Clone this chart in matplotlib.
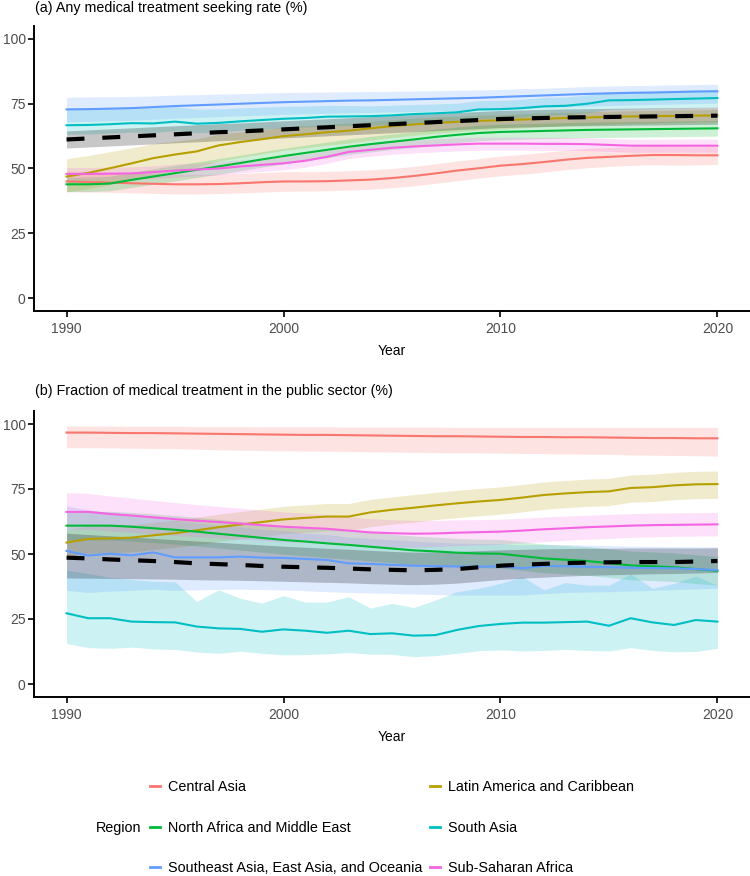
import matplotlib.pyplot as plt
from matplotlib.lines import Line2D

plt.rcParams['font.family'] = ['Liberation Sans', 'DejaVu Sans']

years = list(range(1990, 2021))
regions = ['Central Asia', 'Latin America and Caribbean', 'North Africa and Middle East',
           'South Asia', 'Southeast Asia, East Asia, and Oceania', 'Sub-Saharan Africa']
colors = ['#F8766D', '#B79F00', '#00BA38', '#00BFC4', '#619CFF', '#F564E3']

# (a) any medical treatment seeking rate (%)
a_central = [45.0, 44.8, 44.6, 44.3, 44.1, 43.9, 43.9, 44.0, 44.3, 44.7, 45.0, 45.0, 45.1, 45.4, 45.7, 46.3,
             47.1, 48.1, 49.2, 50.1, 51.1, 51.7, 52.5, 53.4, 54.1, 54.5, 54.9, 55.2, 55.2, 55.1, 55.1]
a_central_lo = [41.0, 40.9, 40.8, 40.6, 40.4, 40.2, 40.2, 40.3, 40.6, 40.9, 41.2, 41.3, 41.4, 41.7, 42.0, 42.6,
                43.3, 44.3, 45.3, 46.3, 47.2, 47.8, 48.6, 49.5, 50.3, 50.8, 51.2, 51.5, 51.3, 51.4, 51.6]
a_central_hi = [49.0, 48.8, 48.5, 48.2, 48.0, 47.8, 47.7, 47.8, 48.1, 48.4, 48.8, 48.8, 48.9, 49.1, 49.5, 50.0,
                50.8, 51.8, 52.9, 53.8, 54.8, 55.4, 56.2, 57.1, 57.8, 58.1, 58.4, 58.6, 58.5, 58.4, 58.4]
a_latin = [46.9, 48.3, 50.1, 52.0, 54.0, 55.4, 56.6, 58.9, 60.2, 61.3, 62.5, 63.2, 64.0, 64.6, 65.5, 66.4,
           67.0, 67.6, 68.0, 68.4, 68.6, 68.9, 69.2, 69.5, 69.7, 69.9, 70.1, 70.2, 70.3, 70.4, 70.5]
a_latin_lo = [41.0, 42.2, 43.8, 45.6, 47.5, 49.0, 50.4, 52.8, 54.3, 55.6, 57.0, 58.0, 59.0, 59.8, 60.9, 62.0,
              62.8, 63.6, 64.2, 64.8, 65.2, 65.7, 66.1, 66.5, 66.8, 67.1, 67.4, 67.6, 67.8, 68.0, 68.1]
a_latin_hi = [53.8, 55.0, 56.5, 58.0, 59.6, 60.6, 61.5, 63.2, 64.1, 65.0, 66.0, 66.5, 67.1, 67.5, 68.2, 68.9,
              69.4, 69.9, 70.2, 70.6, 70.8, 71.1, 71.4, 71.7, 71.9, 72.1, 72.3, 72.4, 72.5, 72.6, 72.8]
a_nafrica = [43.9, 43.9, 44.2, 45.6, 46.9, 48.2, 49.5, 50.8, 52.1, 53.5, 54.8, 56.0, 57.2, 58.4, 59.4, 60.3,
             61.2, 62.2, 63.0, 63.7, 64.1, 64.3, 64.5, 64.7, 64.9, 65.0, 65.1, 65.2, 65.3, 65.4, 65.5]
a_nafrica_lo = [41.1, 41.1, 41.4, 42.7, 43.9, 45.2, 46.5, 47.8, 49.1, 50.5, 51.8, 53.0, 54.2, 55.4, 56.4, 57.3,
                58.2, 59.2, 60.0, 60.7, 61.1, 61.3, 61.5, 61.7, 61.9, 62.0, 62.1, 62.2, 62.3, 62.4, 62.5]
a_nafrica_hi = [46.7, 46.7, 47.0, 48.5, 49.9, 51.2, 52.5, 53.8, 55.1, 56.5, 57.8, 59.0, 60.2, 61.4, 62.4, 63.3,
                64.2, 65.2, 66.0, 66.7, 67.1, 67.3, 67.5, 67.7, 67.9, 68.0, 68.1, 68.2, 68.3, 68.4, 68.5]
a_sasia = [66.7, 66.8, 67.1, 67.5, 67.4, 68.1, 67.3, 67.6, 68.2, 68.7, 69.2, 69.5, 70.0, 70.1, 70.2, 70.5,
           71.0, 71.3, 71.7, 72.8, 72.9, 73.3, 74.0, 74.2, 75.0, 76.3, 76.4, 76.6, 76.8, 77.0, 77.2]
a_sasia_lo = [63.2, 63.3, 63.6, 64.0, 63.9, 64.6, 63.8, 64.1, 64.7, 65.2, 65.7, 66.0, 66.5, 66.6, 66.7, 67.0,
              67.5, 67.8, 68.2, 69.3, 69.4, 69.8, 70.5, 70.7, 71.5, 72.8, 72.9, 73.1, 73.3, 73.5, 73.7]
a_sasia_hi = [73.5, 73.4, 73.5, 73.7, 73.4, 73.9, 72.9, 73.0, 73.4, 73.7, 74.0, 74.1, 74.4, 74.3, 74.2, 74.4,
              74.7, 74.9, 75.2, 76.2, 76.3, 76.7, 77.4, 77.6, 78.4, 79.7, 79.8, 80.0, 80.2, 80.4, 80.6]
a_seasia = [72.8, 72.9, 73.1, 73.3, 73.7, 74.1, 74.4, 74.7, 75.0, 75.3, 75.6, 75.8, 76.0, 76.2, 76.3, 76.5,
            76.7, 76.9, 77.1, 77.3, 77.6, 77.9, 78.2, 78.5, 78.8, 79.0, 79.2, 79.3, 79.5, 79.7, 79.8]
a_seasia_lo = [68.0, 68.2, 68.4, 68.6, 69.0, 69.4, 69.7, 70.0, 70.3, 70.6, 70.9, 71.1, 71.3, 71.5, 71.6, 71.8,
               72.0, 72.2, 72.4, 72.6, 72.9, 73.2, 73.5, 73.8, 74.1, 74.3, 74.5, 74.7, 74.9, 75.1, 75.2]
a_seasia_hi = [77.5, 77.6, 77.7, 77.8, 78.0, 78.3, 78.5, 78.7, 78.9, 79.1, 79.3, 79.4, 79.5, 79.6, 79.7, 79.8,
               79.9, 80.0, 80.2, 80.3, 80.5, 80.8, 81.0, 81.3, 81.6, 81.8, 82.0, 82.1, 82.3, 82.4, 82.5]
a_ssafrica = [47.9, 47.9, 48.0, 48.1, 48.6, 49.2, 49.6, 50.0, 50.8, 51.4, 52.0, 53.0, 54.5, 56.4, 57.2, 58.0,
              58.5, 58.9, 59.3, 59.6, 59.6, 59.6, 59.5, 59.5, 59.4, 59.1, 58.8, 58.8, 58.8, 58.8, 58.8]
a_ssafrica_lo = [45.4, 45.4, 45.5, 45.6, 46.1, 46.7, 47.1, 47.5, 48.3, 48.9, 49.5, 50.5, 52.0, 53.9, 54.7, 55.5,
                 56.0, 56.4, 56.8, 57.1, 57.1, 57.1, 57.0, 57.0, 56.9, 56.6, 56.3, 56.3, 56.3, 56.3, 56.3]
a_ssafrica_hi = [50.4, 50.4, 50.5, 50.6, 51.1, 51.7, 52.1, 52.5, 53.3, 53.9, 54.5, 55.5, 57.0, 58.9, 59.7, 60.5,
                 61.0, 61.4, 61.8, 62.1, 62.1, 62.1, 62.0, 62.0, 61.9, 61.6, 61.3, 61.3, 61.3, 61.3, 61.3]
a_all = [61.2, 61.6, 62.0, 62.4, 62.8, 63.2, 63.6, 64.0, 64.3, 64.7, 65.1, 65.5, 65.9, 66.3, 66.7, 67.1,
         67.5, 67.9, 68.3, 68.7, 69.1, 69.3, 69.5, 69.7, 69.8, 69.9, 70.0, 70.1, 70.2, 70.3, 70.4]
a_all_lo = [57.9, 58.3, 58.7, 59.1, 59.5, 59.9, 60.3, 60.7, 61.0, 61.4, 61.8, 62.2, 62.6, 63.0, 63.4, 63.8,
            64.2, 64.6, 65.0, 65.4, 65.8, 66.0, 66.2, 66.4, 66.5, 66.6, 66.7, 66.8, 66.9, 67.0, 67.1]
a_all_hi = [64.5, 64.9, 65.3, 65.7, 66.1, 66.5, 66.9, 67.3, 67.6, 68.0, 68.4, 68.8, 69.2, 69.6, 70.0, 70.4,
            70.8, 71.2, 71.6, 72.0, 72.4, 72.6, 72.8, 73.0, 73.1, 73.2, 73.3, 73.4, 73.5, 73.6, 73.7]

# (b) fraction of medical treatment in the public sector (%)
b_central = [96.7, 96.7, 96.6, 96.5, 96.5, 96.4, 96.3, 96.2, 96.1, 96.0, 95.9, 95.8, 95.8, 95.7, 95.6, 95.5,
             95.4, 95.3, 95.3, 95.2, 95.1, 95.0, 95.0, 94.9, 94.9, 94.8, 94.7, 94.6, 94.6, 94.5, 94.5]
b_central_lo = [90.9, 90.9, 90.8, 90.7, 90.6, 90.5, 90.3, 90.1, 89.9, 89.8, 89.7, 89.6, 89.5, 89.4, 89.3, 89.2,
                89.1, 89.0, 88.9, 88.9, 88.8, 88.7, 88.6, 88.5, 88.4, 88.3, 88.1, 88.0, 87.9, 87.8, 87.7]
b_central_hi = [99.2, 99.2, 99.2, 99.1, 99.1, 99.1, 99.0, 99.0, 99.0, 98.9, 98.9, 98.9, 98.9, 98.8, 98.8, 98.8,
                98.8, 98.8, 98.7, 98.7, 98.7, 98.7, 98.7, 98.7, 98.7, 98.7, 98.7, 98.7, 98.7, 98.7, 98.7]
b_latin = [54.4, 55.8, 56.0, 56.3, 57.2, 58.0, 59.1, 60.3, 61.3, 62.3, 63.3, 63.9, 64.4, 64.4, 66.0, 67.0,
           67.8, 68.7, 69.5, 70.2, 70.8, 71.7, 72.7, 73.3, 73.8, 74.1, 75.4, 75.7, 76.4, 76.8, 76.9]
b_latin_lo = [48.9, 50.3, 50.5, 50.8, 51.7, 52.5, 53.6, 54.8, 55.8, 56.8, 57.8, 58.4, 58.9, 58.9, 60.5, 61.5,
              62.3, 63.2, 64.0, 64.7, 65.3, 66.2, 67.2, 67.8, 68.3, 68.6, 69.9, 70.2, 70.9, 71.3, 71.4]
b_latin_hi = [59.4, 60.8, 61.0, 61.3, 62.2, 63.0, 64.1, 65.3, 66.3, 67.3, 68.3, 68.9, 69.4, 69.4, 71.0, 72.0,
              72.8, 73.7, 74.5, 75.2, 75.8, 76.7, 77.7, 78.3, 78.8, 79.1, 80.4, 80.7, 81.4, 81.8, 81.9]
b_nafrica = [60.9, 60.9, 60.9, 60.5, 59.9, 59.3, 58.6, 57.8, 57.0, 56.2, 55.4, 54.8, 54.1, 53.5, 52.8, 52.1,
             51.4, 51.0, 50.5, 50.2, 50.1, 49.2, 48.3, 47.8, 47.3, 46.5, 45.6, 45.3, 44.9, 44.2, 43.5]
b_nafrica_lo = [55.4, 55.4, 55.4, 55.0, 54.4, 53.8, 53.1, 52.3, 51.5, 50.7, 49.9, 49.3, 48.6, 48.0, 47.3, 46.6,
                45.9, 45.5, 45.0, 44.7, 44.6, 43.7, 42.8, 42.3, 41.8, 41.0, 40.1, 39.8, 39.4, 38.7, 38.0]
b_nafrica_hi = [66.4, 66.4, 66.4, 66.0, 65.4, 64.8, 64.1, 63.3, 62.5, 61.7, 60.9, 60.3, 59.6, 59.0, 58.3, 57.6,
                56.9, 56.5, 56.0, 55.7, 55.6, 54.7, 53.8, 53.3, 52.8, 52.0, 51.1, 50.8, 50.4, 49.7, 49.0]
b_sasia = [27.2, 25.3, 25.3, 24.0, 23.8, 23.7, 22.1, 21.4, 21.2, 20.1, 21.0, 20.5, 19.7, 20.5, 19.2, 19.5,
           18.6, 18.8, 20.8, 22.3, 23.1, 23.6, 23.6, 23.8, 24.0, 22.4, 25.3, 23.7, 22.7, 24.6, 24.0]
b_sasia_lo = [15.6, 14.0, 13.7, 14.2, 13.5, 13.3, 12.3, 11.8, 12.6, 11.8, 11.2, 11.3, 11.6, 12.1, 11.5, 11.4,
              10.5, 10.9, 11.8, 12.8, 13.1, 12.7, 12.9, 13.3, 12.9, 12.7, 14.0, 12.9, 12.4, 12.5, 13.7]
b_sasia_hi = [43.8, 42.5, 41.0, 40.2, 39.5, 39.3, 31.7, 36.2, 33.0, 31.1, 34.0, 31.5, 31.5, 33.6, 29.2, 31.0,
              29.4, 32.3, 35.5, 36.8, 38.7, 41.3, 36.2, 39.0, 38.0, 38.0, 42.3, 36.8, 38.7, 41.5, 38.0]
b_seasia = [51.2, 49.4, 50.1, 49.5, 50.6, 48.7, 48.7, 48.7, 49.0, 48.6, 48.5, 48.1, 47.7, 46.4, 46.2, 45.8,
            45.5, 45.3, 45.2, 45.1, 45.3, 44.5, 45.4, 45.3, 45.1, 44.9, 44.7, 44.6, 44.5, 44.2, 43.8]
b_seasia_lo = [36.0, 35.2, 35.7, 36.0, 36.5, 36.0, 36.2, 36.4, 36.5, 36.3, 36.2, 35.9, 35.5, 35.2, 35.0, 34.9,
               34.6, 34.4, 34.2, 34.2, 34.2, 34.2, 34.8, 35.2, 35.4, 35.5, 35.8, 36.0, 36.3, 36.6, 36.8]
b_seasia_hi = [68.5, 67.0, 66.0, 65.0, 64.5, 63.0, 62.0, 61.0, 60.5, 59.5, 59.0, 58.0, 57.5, 56.5, 56.0, 55.5,
               55.0, 54.5, 54.2, 54.0, 54.0, 53.5, 53.7, 53.6, 53.4, 53.2, 53.0, 52.9, 52.8, 52.7, 52.7]
b_ssafrica = [66.2, 66.2, 65.4, 64.8, 64.1, 63.4, 62.8, 62.3, 61.7, 61.1, 60.5, 60.1, 59.7, 59.0, 58.3, 58.0,
              57.8, 57.9, 58.2, 58.4, 58.6, 59.0, 59.5, 59.9, 60.3, 60.6, 60.9, 61.1, 61.2, 61.3, 61.4]
b_ssafrica_lo = [59.5, 59.5, 58.8, 58.3, 57.7, 57.1, 56.6, 56.2, 55.7, 55.2, 54.7, 54.4, 54.1, 53.5, 52.9, 52.7,
                 52.6, 52.8, 53.2, 53.5, 53.8, 54.3, 54.8, 55.3, 55.7, 56.0, 56.4, 56.6, 56.8, 56.9, 57.0]
b_ssafrica_hi = [73.6, 73.3, 72.3, 71.5, 70.6, 69.8, 69.0, 68.3, 67.6, 66.9, 66.2, 65.7, 65.2, 64.4, 63.6, 63.2,
                 62.9, 62.9, 63.1, 63.2, 63.4, 63.7, 64.2, 64.6, 64.9, 65.2, 65.5, 65.7, 65.8, 65.9, 66.0]
b_all = [48.6, 48.3, 47.9, 47.6, 47.3, 46.9, 46.4, 46.1, 45.8, 45.4, 45.1, 44.9, 44.7, 44.4, 44.1, 43.9,
         43.7, 43.9, 44.2, 44.9, 45.5, 45.9, 46.2, 46.5, 46.7, 46.8, 46.9, 46.9, 46.9, 47.1, 47.3]
b_all_lo = [40.8, 40.7, 40.6, 40.5, 40.4, 40.3, 40.1, 40.0, 39.9, 39.7, 39.5, 39.3, 39.1, 38.9, 38.6, 38.4,
            38.2, 38.4, 38.8, 39.5, 40.2, 40.7, 41.1, 41.5, 41.8, 42.0, 42.2, 42.4, 42.5, 42.7, 42.9]
b_all_hi = [58.0, 57.5, 57.0, 56.5, 56.0, 55.5, 55.0, 54.5, 54.0, 53.5, 53.0, 52.6, 52.2, 51.8, 51.4, 51.0,
            50.7, 50.8, 51.0, 51.3, 51.6, 51.8, 52.0, 52.1, 52.2, 52.2, 52.3, 52.3, 52.3, 52.3, 52.4]

panel_a = {
    'title': '(a) Any medical treatment seeking rate (%)',
    'mean': [a_central, a_latin, a_nafrica, a_sasia, a_seasia, a_ssafrica],
    'lo': [a_central_lo, a_latin_lo, a_nafrica_lo, a_sasia_lo, a_seasia_lo, a_ssafrica_lo],
    'hi': [a_central_hi, a_latin_hi, a_nafrica_hi, a_sasia_hi, a_seasia_hi, a_ssafrica_hi],
    'all': (a_all, a_all_lo, a_all_hi),
}
panel_b = {
    'title': '(b) Fraction of medical treatment in the public sector (%)',
    'mean': [b_central, b_latin, b_nafrica, b_sasia, b_seasia, b_ssafrica],
    'lo': [b_central_lo, b_latin_lo, b_nafrica_lo, b_sasia_lo, b_seasia_lo, b_ssafrica_lo],
    'hi': [b_central_hi, b_latin_hi, b_nafrica_hi, b_sasia_hi, b_seasia_hi, b_ssafrica_hi],
    'all': (b_all, b_all_lo, b_all_hi),
}

W, H = 750, 876
fig = plt.figure(figsize=(W / 100, H / 100), dpi=100)
ax_a = fig.add_axes([34 / W, 1 - 311 / H, 716 / W, 285 / H])
ax_b = fig.add_axes([34 / W, 1 - 697 / H, 716 / W, 286 / H])

for ax, panel, title_y in [(ax_a, panel_a, 8), (ax_b, panel_b, 391)]:
    # ribbons under, lines on top, overall estimate last
    for lo, hi, c in zip(panel['lo'], panel['hi'], colors):
        ax.fill_between(years, lo, hi, color=c, alpha=0.2, linewidth=0)
    for mean, c in zip(panel['mean'], colors):
        ax.plot(years, mean, color=c, linewidth=1.5)
    all_mean, all_lo, all_hi = panel['all']
    ax.fill_between(years, all_lo, all_hi, color='black', alpha=0.22, linewidth=0)
    ax.plot(years, all_mean, color='black', linewidth=3, linestyle=(0, (4.3, 4.3)))

    ax.set_xlim(1988.5, 2021.5)
    ax.set_ylim(-5, 105)
    ax.set_xticks([1990, 2000, 2010, 2020])
    ax.set_yticks([0, 25, 50, 75, 100])
    ax.spines['right'].set_visible(False)
    ax.spines['top'].set_visible(False)
    ax.spines['left'].set_linewidth(1.4)
    ax.spines['bottom'].set_linewidth(1.4)
    ax.tick_params(length=4, width=1.2, labelsize=10, labelcolor='#4D4D4D')
    ax.tick_params(axis='y', pad=2)
    ax.tick_params(axis='x', pad=4)
    ax.set_xlabel('Year', fontsize=10, labelpad=6)
    fig.text(35 / W, 1 - title_y / H, panel['title'], fontsize=10.3, va='center', ha='left')

# legend laid out row by row like the ggplot guide
order = [0, 2, 4, 1, 3, 5]
handles = [Line2D([], [], color=colors[i], linewidth=2) for i in order]
labels = [regions[i] for i in order]
fig.legend(handles, labels, ncol=2, loc='upper left', bbox_to_anchor=(150 / W, 1 - 780 / H),
           frameon=False, fontsize=10.4, handlelength=0.72, handletextpad=0.55,
           columnspacing=0.5, labelspacing=1.85, borderpad=0, borderaxespad=0)
fig.text(96 / W, 1 - 828 / H, 'Region', fontsize=10.4, va='center', ha='left')

fig.savefig('out.png', dpi=100)
